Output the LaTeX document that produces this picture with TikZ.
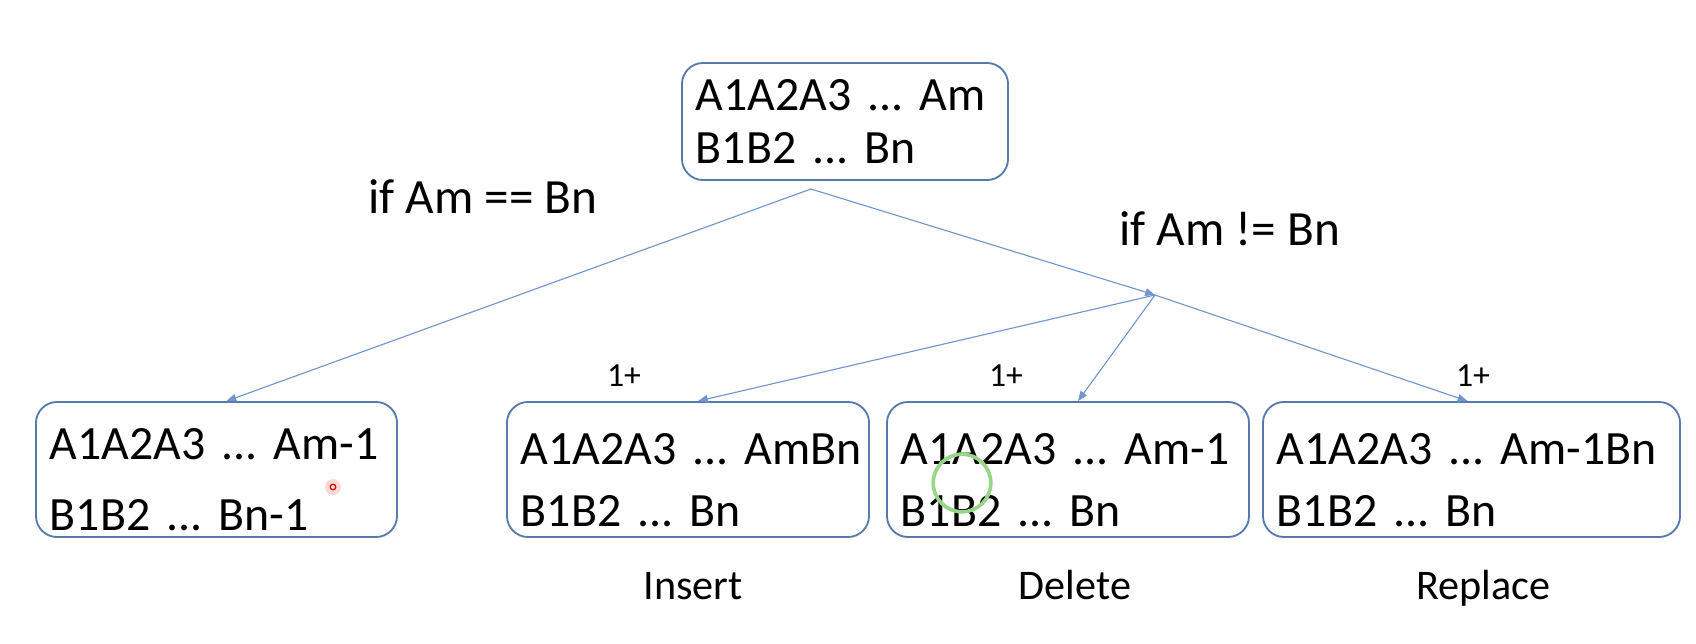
\documentclass[tikz,border=0pt]{standalone}
\usepackage{fontspec}
\setmainfont{Carlito}
\usepackage{xcolor}
\usepackage{tikz}
\usetikzlibrary{arrows.meta}
\frenchspacing
\definecolor{boxblue}{RGB}{88,122,170}
\definecolor{arrowblue}{RGB}{112,150,205}
\definecolor{ringgreen}{RGB}{150,215,135}
\tikzstyle{box}=[draw=boxblue, line width=1.3pt, rounded corners=15pt, align=left, inner xsep=0.35cm, inner ysep=0pt]
\tikzstyle{small box}=[style=box, minimum height=3.375cm, font=\fontsize{34}{44}\selectfont, execute at begin node={\rule{0pt}{37pt}}]
\tikzstyle{top box}=[style=box, minimum height=2.925cm, font=\fontsize{34}{37.7}\selectfont]
\tikzstyle{cond text}=[anchor=base west, inner sep=0pt, font=\fontsize{35}{40}\selectfont]
\tikzstyle{cost text}=[anchor=base, inner sep=0pt, font=\fontsize{24}{28}\selectfont]
\tikzstyle{op text}=[anchor=base, inner sep=0pt, font=\fontsize{30}{35}\selectfont]
\tikzstyle{arrow edge}=[-{Triangle[length=7pt, width=5.5pt]}, draw=arrowblue, line width=0.8pt]
\pgfdeclarelayer{nodelayer}
\pgfdeclarelayer{edgelayer}
\pgfsetlayers{main,nodelayer,edgelayer}

\begin{document}
\begin{tikzpicture}[x=0.025cm, y=-0.025cm]
        	\useasboundingbox (0, 0) rectangle (1696, 644);
        	\begin{pgfonlayer}{nodelayer}
        		\node [style=top box, text width=7.45cm] (0) at (845, 121.5) {\mbox{A1A2A3 ... Am}\\\mbox{B1B2 ... Bn}};
        		\node [style=small box, text width=8.325cm, font=\fontsize{34}{50.5}\selectfont] (1) at (216.5, 469.5) {\mbox{A1A2A3 ... Am-1}\\\mbox{B1B2 ... Bn-1}};
        		\node [style=small box, text width=8.35cm] (2) at (688, 469.5) {\mbox{A1A2A3 ... AmBn}\\\mbox{B1B2 ... Bn}};
        		\node [style=small box, text width=8.35cm] (3) at (1068, 469.5) {\mbox{A1A2A3 ... Am-1}\\\mbox{B1B2 ... Bn}};
        		\node [style=small box, text width=9.725cm] (4) at (1471.5, 469.5) {\mbox{A1A2A3 ... Am-1Bn}\\\mbox{B1B2 ... Bn}};
        		\node [style=cond text] (5) at (368, 213) {if Am == Bn};
        		\node [style=cond text] (6) at (1119, 245) {if Am != Bn};
        		\node [style=cost text] (7) at (624, 386) {1+};
        		\node [style=cost text] (8) at (1006, 386) {1+};
        		\node [style=cost text] (9) at (1473, 386) {1+};
        		\node [style=op text] (10) at (693, 599) {Insert};
        		\node [style=op text] (11) at (1075, 599) {Delete};
        		\node [style=op text] (12) at (1483, 599) {Replace};
        		\coordinate (13) at (811, 189);
        		\coordinate (14) at (1155, 295);
        	\end{pgfonlayer}
        	\begin{pgfonlayer}{edgelayer}
        		\draw [style=arrow edge] (13) to ([xshift=0.25cm]1.north);
        		\draw [style=arrow edge] (13) to (14);
        		\draw [style=arrow edge] (14) to ([xshift=0.25cm]2.north);
        		\draw [style=arrow edge] (14) to ([xshift=0.25cm]3.north);
        		\draw [style=arrow edge] (14) to ([xshift=-0.1cm]4.north);
        		% pointer marks
        		\draw [ringgreen, line width=2.6pt] (962, 483) circle (0.72cm);
        		\fill [red!25, opacity=0.6] (333, 487) circle (0.2cm);
        		\draw [red!80!black, line width=0.9pt] (333, 487) circle (0.07cm);
        	\end{pgfonlayer}
        \end{tikzpicture}
\end{document}
